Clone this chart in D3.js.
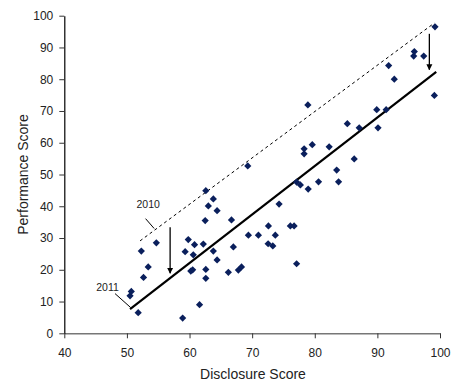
<!DOCTYPE html>
<html>
<head>
<meta charset="utf-8">
<script src="https://cdn.jsdelivr.net/npm/d3@7"></script>
<style>
  html, body { margin: 0; padding: 0; background: #fff; }
  svg { display: block; font-family: Arial, "Liberation Sans", sans-serif; }
</style>
</head>
<body>
<svg id="chart" width="467" height="385"></svg>
<script>
// Disclosure score vs performance score, one entry per company
const disclosure = [
  50.5, 50.7, 51.8, 52.3, 52.65, 53.4, 54.7, 58.9, 59.3, 59.8,
  60.2, 60.5, 60.6, 60.8, 61.6, 62.2, 62.5, 62.6, 62.6, 62.6,
  63.0, 63.8, 63.8, 64.4, 64.4, 66.2, 66.7, 67.0, 67.8, 68.3,
  69.3, 69.4, 71.0, 72.6, 72.55, 73.3, 73.7, 74.3, 76.1, 76.7,
  77.1, 77.1, 77.7, 78.3, 78.3, 78.9, 78.95, 79.6, 80.6, 82.3,
  83.5, 83.8, 85.2, 86.3, 87.1, 89.9, 90.1, 91.4, 91.8, 92.7,
  95.8, 95.9, 97.4, 99.1, 99.2
];
const performance = [
  11.8, 13.2, 6.5, 25.9, 17.6, 20.9, 28.5, 4.8, 25.7, 29.5,
  19.6, 20.0, 24.7, 27.9, 9.0, 28.1, 35.5, 44.9, 20.1, 17.3,
  40.1, 42.3, 25.9, 38.6, 23.1, 19.2, 35.7, 27.2, 19.9, 20.9,
  52.7, 30.9, 30.9, 33.8, 28.2, 27.5, 30.9, 40.7, 33.8, 33.8,
  21.9, 47.6, 46.7, 58.1, 56.5, 71.9, 45.4, 59.4, 47.7, 58.7,
  51.4, 47.7, 66.0, 54.9, 64.7, 70.4, 64.7, 70.4, 84.3, 80.0,
  87.3, 88.7, 87.3, 74.9, 96.5
];

// Trend lines (start and end points in data units)
const trend2011 = [[50.5, 7.6], [99.4, 82.3]];
const trend2010 = [[52.1, 29.1], [99.1, 97.7]];

// Downward shift arrows: [x, from, to]
const shiftArrows = [[56.9, 33.4, 18.9], [98.3, 94.3, 83.0]];

// Year labels with leader lines: text, anchor point, leader start, leader end
const yearLabels = [
  { text: "2010", at: [53.4, 39.4], from: [52.98, 36.1], to: [54.35, 33.0] },
  { text: "2011", at: [46.9, 13.2], from: [48.1, 12.5], to: [50.6, 8.1] }
];

const xTicks = [40, 50, 60, 70, 80, 90, 100];
const yTicks = [0, 10, 20, 30, 40, 50, 60, 70, 80, 90, 100];

const svg = d3.select("#chart");

const x = d3.scaleLinear().domain([40, 100]).range([64.3, 440]);
const y = d3.scaleLinear().domain([0, 100]).range([333.3, 15.7]);

// Arrow head marker
svg.append("defs").append("marker")
  .attr("id", "arrowhead")
  .attr("viewBox", "0 0 10 10")
  .attr("refX", 9).attr("refY", 5)
  .attr("markerWidth", 6).attr("markerHeight", 7)
  .attr("markerUnits", "userSpaceOnUse")
  .attr("orient", "auto")
  .append("path")
  .attr("d", "M0,0 L10,5 L0,10 Z")
  .attr("fill", "#000");

// Axes
const xAxis = svg.append("g")
  .attr("transform", `translate(0,${y(0)})`)
  .call(d3.axisBottom(x).tickValues(xTicks).tickSize(5).tickPadding(10).tickSizeOuter(0));
xAxis.select(".domain").attr("stroke", "#777").attr("stroke-width", 1.5);
xAxis.selectAll(".tick line").attr("stroke", "#333");
xAxis.selectAll("text").attr("font-size", 12).attr("fill", "#222")
  .attr("font-family", "Arial, 'Liberation Sans', sans-serif");

const yAxis = svg.append("g")
  .attr("transform", `translate(${x(40)},0)`)
  .call(d3.axisLeft(y).tickValues(yTicks).tickSize(5).tickPadding(6).tickSizeOuter(0));
yAxis.select(".domain").attr("stroke", "#000").attr("stroke-width", 1.2);
yAxis.selectAll(".tick line").attr("stroke", "#333");
yAxis.selectAll("text").attr("font-size", 12).attr("fill", "#222")
  .attr("font-family", "Arial, 'Liberation Sans', sans-serif");

// Axis titles
svg.append("text")
  .attr("x", 253).attr("y", 379)
  .attr("text-anchor", "middle")
  .attr("font-size", 14).attr("fill", "#222")
  .text("Disclosure Score");

svg.append("text")
  .attr("transform", `translate(28,${(y(0) + y(100)) / 2}) rotate(-90)`)
  .attr("text-anchor", "middle")
  .attr("font-size", 14).attr("fill", "#222")
  .text("Performance Score");

const line = d3.line().x(d => x(d[0])).y(d => y(d[1]));

// 2010 trend (dashed)
svg.append("path")
  .attr("d", line(trend2010))
  .attr("fill", "none").attr("stroke", "#000")
  .attr("stroke-width", 1).attr("stroke-dasharray", "3,3");

// 2011 trend (solid)
svg.append("path")
  .attr("d", line(trend2011))
  .attr("fill", "none").attr("stroke", "#000")
  .attr("stroke-width", 2.2);

// Data points as diamonds
const points = disclosure.map((d, i) => [d, performance[i]]);
svg.append("g").selectAll("path")
  .data(points)
  .join("path")
  .attr("d", d3.symbol(d3.symbolSquare, 26))
  .attr("transform", d => `translate(${x(d[0])},${y(d[1])}) rotate(45)`)
  .attr("fill", "#0a1f5c");

// Shift arrows
svg.append("g").selectAll("line")
  .data(shiftArrows)
  .join("line")
  .attr("x1", d => x(d[0])).attr("x2", d => x(d[0]))
  .attr("y1", d => y(d[1])).attr("y2", d => y(d[2]))
  .attr("stroke", "#000").attr("stroke-width", 1.3)
  .attr("marker-end", "url(#arrowhead)");

// Year labels with leader lines
const labels = svg.append("g");
labels.selectAll("line")
  .data(yearLabels)
  .join("line")
  .attr("x1", d => x(d.from[0])).attr("y1", d => y(d.from[1]))
  .attr("x2", d => x(d.to[0])).attr("y2", d => y(d.to[1]))
  .attr("stroke", "#000").attr("stroke-width", 1);
labels.selectAll("text")
  .data(yearLabels)
  .join("text")
  .attr("x", d => x(d.at[0])).attr("y", d => y(d.at[1]))
  .attr("text-anchor", "middle")
  .attr("font-size", 10.5).attr("fill", "#222")
  .text(d => d.text);
</script>
</body>
</html>
